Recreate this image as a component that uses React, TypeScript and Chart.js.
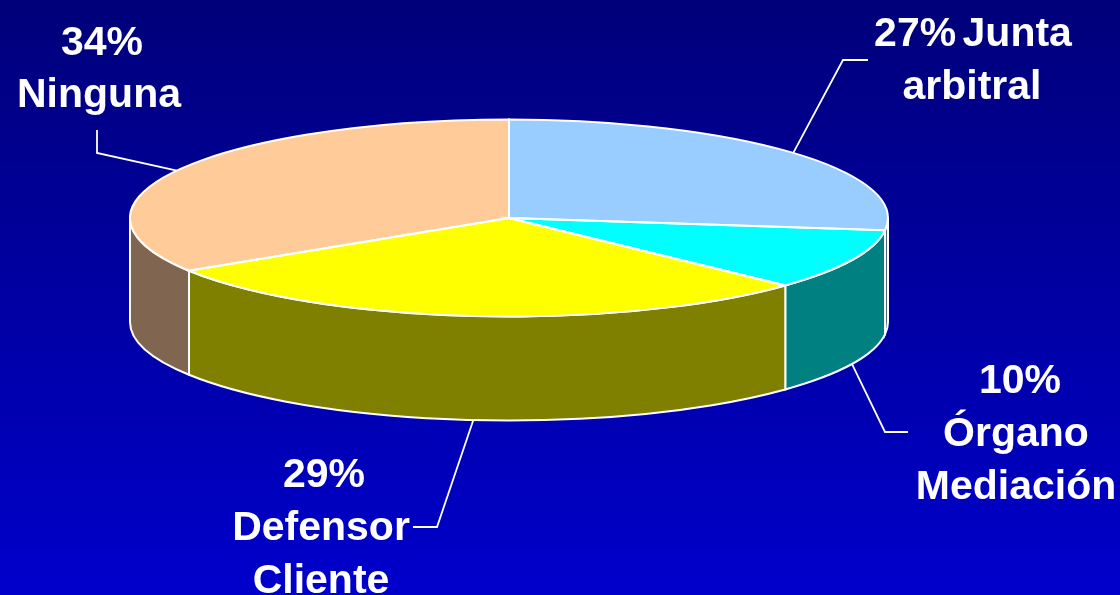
import React, { useEffect, useRef } from "react";
import { Chart, registerables } from "chart.js";

Chart.register(...registerables);

const categories = ["Junta arbitral", "Órgano Mediación", "Defensor Cliente", "Ninguna"];
const values = [27, 10, 29, 34];
const topColors = ["#99CCFF", "#00FFFF", "#FFFF00", "#FFCC99"];
const wallColors = ["#4D6680", "#008080", "#808000", "#806650"];
const labelLines = [
  [{ t: "27% Junta", x: 973, y: 46 }, { t: "arbitral", x: 972, y: 99 }],
  [{ t: "10%", x: 1020, y: 393 }, { t: "Órgano", x: 1016, y: 446 }, { t: "Mediación", x: 1016, y: 499 }],
  [{ t: "29%", x: 324, y: 487 }, { t: "Defensor", x: 321, y: 540 }, { t: "Cliente", x: 321, y: 593 }],
  [{ t: "34%", x: 102, y: 55 }, { t: "Ninguna", x: 99, y: 107 }],
];
const leaderElbows = [
  [[843, 60], [868, 60]],
  [[885, 432], [908, 432]],
  [[437, 527], [413, 527]],
  [[97, 153], [97, 130]],
];

const RX = 379;
const RY = 98.5;
const DEPTH = 104;
const SQUASH = RY / RX;

function norm(a: number) {
  const t = Math.PI * 2;
  // start angles are mapped so that the visible front half is [0, PI]
  let n = a % t;
  if (n > Math.PI * 1.5) n -= t;
  if (n < -Math.PI) n += t;
  return n;
}

const pie3d = {
  id: "pie3d",
  beforeDraw(chart: any) {
    const { ctx, width, height } = chart;
    const g = ctx.createLinearGradient(0, 0, 0, height);
    g.addColorStop(0, "#00007A");
    g.addColorStop(1, "#0000CC");
    ctx.save();
    ctx.fillStyle = g;
    ctx.fillRect(0, 0, width, height);
    ctx.restore();
  },
  beforeDatasetsDraw(chart: any) {
    const { ctx } = chart;
    const arcs = chart.getDatasetMeta(0).data;
    ctx.save();
    arcs.forEach((arc: any, i: number) => {
      const a = Math.max(norm(arc.startAngle), 0);
      const rawEnd = norm(arc.startAngle) + (arc.endAngle - arc.startAngle);
      const b = Math.min(rawEnd, Math.PI);
      if (b <= a) return;
      ctx.beginPath();
      ctx.ellipse(arc.x, arc.y, RX, RY, 0, a, b, false);
      ctx.lineTo(arc.x + RX * Math.cos(b), arc.y + RY * Math.sin(b) + DEPTH);
      ctx.ellipse(arc.x, arc.y + DEPTH, RX, RY, 0, b, a, true);
      ctx.closePath();
      ctx.fillStyle = wallColors[i];
      ctx.fill();
      ctx.strokeStyle = "#FFFFFF";
      ctx.lineWidth = 2;
      ctx.stroke();
    });
    ctx.restore();
    // squash the pie that the library draws into the top face
    const c = arcs[0];
    ctx.save();
    ctx.translate(c.x, c.y);
    ctx.scale(1, SQUASH);
    ctx.translate(-c.x, -c.y);
  },
  afterDatasetsDraw(chart: any) {
    const { ctx } = chart;
    ctx.restore();
    const arcs = chart.getDatasetMeta(0).data;
    ctx.save();
    ctx.strokeStyle = "#FFFFFF";
    ctx.lineWidth = 2;
    arcs.forEach((arc: any) => {
      ctx.beginPath();
      ctx.moveTo(arc.x, arc.y);
      ctx.ellipse(arc.x, arc.y, RX, RY, 0, arc.startAngle, arc.endAngle, false);
      ctx.closePath();
      ctx.stroke();
    });
    // leader lines from the middle of every slice's rim
    ctx.lineWidth = 1.8;
    arcs.forEach((arc: any, i: number) => {
      const mid = (arc.startAngle + arc.endAngle) / 2;
      const sy = Math.sin(mid);
      const x = arc.x + RX * Math.cos(mid);
      const y = arc.y + RY * sy + (sy > 0 ? DEPTH : 0);
      ctx.beginPath();
      ctx.moveTo(x, y);
      leaderElbows[i].forEach(([ex, ey]) => ctx.lineTo(ex, ey));
      ctx.stroke();
    });
    // labels
    ctx.fillStyle = "#FFFFFF";
    ctx.font = 'bold 41px "Liberation Sans", Arial, sans-serif';
    (ctx as any).wordSpacing = "-5px";
    ctx.textAlign = "center";
    ctx.textBaseline = "alphabetic";
    labelLines.forEach((lines) => lines.forEach((l) => ctx.fillText(l.t, l.x, l.y)));
    ctx.restore();
  },
};

export default function App() {
  const ref = useRef<HTMLCanvasElement | null>(null);
  useEffect(() => {
    const chart = new Chart(ref.current as HTMLCanvasElement, {
      type: "pie",
      data: {
        labels: categories,
        datasets: [
          {
            data: values,
            backgroundColor: topColors,
            borderWidth: 0,
            radius: RX,
            clip: false,
          } as any,
        ],
      },
      options: {
        responsive: false,
        animation: false,
        events: [],
        layout: { padding: { left: 0, top: 0, right: 102, bottom: 159 } },
        plugins: { legend: { display: false }, tooltip: { enabled: false } },
      },
      plugins: [pie3d],
    });
    return () => chart.destroy();
  }, []);
  return (
    <canvas
      ref={ref}
      width={1120}
      height={595}
      style={{ position: "absolute", left: 0, top: 0, display: "block" }}
    />
  );
}
